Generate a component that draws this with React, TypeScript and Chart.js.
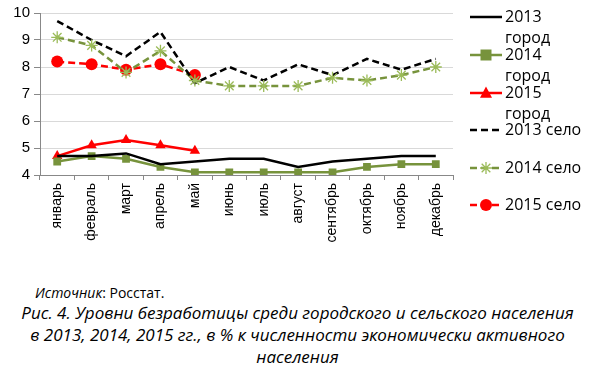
import React, { useEffect, useRef } from "react";
import { Chart, registerables } from "chart.js";

Chart.register(...registerables);

const months = ["январь", "февраль", "март", "апрель", "май", "июнь", "июль", "август", "сентябрь", "октябрь", "ноябрь", "декабрь"];
const city2013 = [4.7, 4.7, 4.8, 4.4, 4.5, 4.6, 4.6, 4.3, 4.5, 4.6, 4.7, 4.7];
const city2014 = [4.5, 4.7, 4.6, 4.3, 4.1, 4.1, 4.1, 4.1, 4.1, 4.3, 4.4, 4.4];
const city2015 = [4.7, 5.1, 5.3, 5.1, 4.9];
const village2013 = [9.7, 9.0, 8.4, 9.3, 7.4, 8.0, 7.5, 8.1, 7.7, 8.3, 7.9, 8.3];
const village2014 = [9.1, 8.8, 7.8, 8.6, 7.5, 7.3, 7.3, 7.3, 7.6, 7.5, 7.7, 8.0];
const village2015 = [8.2, 8.1, 7.9, 8.1, 7.7];
const yTicks = [4, 5, 6, 7, 8, 9, 10];
const legendLabels = [["2013", "город"], ["2014", "город"], ["2015", "город"], ["2013 село"], ["2014 село"], ["2015 село"]];

const GREEN = "#77933C";
const LGREEN = "#9BBB59";
const RED = "#FF0000";

function drawMarker(ctx: CanvasRenderingContext2D, style: string, x: number, y: number, r: number, fill: string, stroke: string) {
  ctx.save();
  ctx.fillStyle = fill;
  ctx.strokeStyle = stroke;
  ctx.lineWidth = 1;
  ctx.setLineDash([]);
  ctx.beginPath();
  if (style === "rect") {
    ctx.rect(x - r, y - r, 2 * r, 2 * r);
    ctx.fill();
  } else if (style === "triangle") {
    ctx.moveTo(x, y - r * 1.1);
    ctx.lineTo(x + r, y + r * 0.8);
    ctx.lineTo(x - r, y + r * 0.8);
    ctx.closePath();
    ctx.fill();
  } else if (style === "circle") {
    ctx.arc(x, y, r, 0, Math.PI * 2);
    ctx.fill();
  } else if (style === "star") {
    ctx.lineWidth = 1.3;
    ctx.moveTo(x - r, y); ctx.lineTo(x + r, y);
    ctx.moveTo(x, y - r); ctx.lineTo(x, y + r);
    const d = r * 0.72;
    ctx.moveTo(x - d, y - d); ctx.lineTo(x + d, y + d);
    ctx.moveTo(x - d, y + d); ctx.lineTo(x + d, y - d);
    ctx.stroke();
  }
  ctx.restore();
}

const legendPlugin = {
  id: "customLegend",
  afterDraw(chart: any) {
    const ctx: CanvasRenderingContext2D = chart.ctx;
    const ds = chart.data.datasets;
    const x0 = 470, x1 = 502, tx = 505;
    const ys = [17, 55, 93, 130, 168, 205];
    ctx.save();
    ds.forEach((d: any, i: number) => {
      const y = ys[i];
      ctx.strokeStyle = d.borderColor;
      ctx.lineWidth = 2.5;
      ctx.setLineDash(d.borderDash || []);
      ctx.beginPath();
      ctx.moveTo(x0, y);
      ctx.lineTo(x1, y);
      ctx.stroke();
      if (d.pointRadius > 0) {
        drawMarker(ctx, d.pointStyle, (x0 + x1) / 2, y, d.pointRadius, d.pointBackgroundColor, d.pointBorderColor);
      }
      if (d.customStar) drawMarker(ctx, "star", (x0 + x1) / 2, y, 6, LGREEN, LGREEN);
      ctx.fillStyle = "#000";
      ctx.font = "16px 'Open Sans'";
      ctx.textBaseline = "middle";
      ctx.textAlign = "left";
      legendLabels[i].forEach((t, k) => ctx.fillText(t, tx, y + k * 21));
    });
    ctx.restore();
  },
};

const markerPlugin = {
  id: "customMarkers",
  afterDatasetsDraw(chart: any) {
    const ctx = chart.ctx;
    chart.data.datasets.forEach((d: any, i: number) => {
      if (!d.customStar) return;
      const meta = chart.getDatasetMeta(i);
      meta.data.forEach((p: any) => drawMarker(ctx, "star", p.x, p.y, 6, LGREEN, LGREEN));
    });
  },
};

export default function App() {
  const ref = useRef<HTMLCanvasElement>(null);
  useEffect(() => {
    const chart = new Chart(ref.current!, {
      type: "line",
      data: {
        labels: months,
        datasets: [
          { label: "2013 город", data: city2013, borderColor: "#000", borderWidth: 2.5, pointRadius: 0, pointStyle: "circle", pointBackgroundColor: "#000", pointBorderColor: "#000", tension: 0 },
          { label: "2014 город", data: city2014, borderColor: GREEN, borderWidth: 2.5, pointRadius: 5.5, pointStyle: "rect", pointBackgroundColor: GREEN, pointBorderColor: GREEN, pointBorderWidth: 0, tension: 0 },
          { label: "2015 город", data: city2015, borderColor: RED, borderWidth: 2.5, pointRadius: 6, pointStyle: "triangle", pointBackgroundColor: RED, pointBorderColor: RED, pointBorderWidth: 0, tension: 0 },
          { label: "2013 село", data: village2013, borderColor: "#000", borderWidth: 2.5, borderDash: [7, 4], pointRadius: 0, pointStyle: "circle", pointBackgroundColor: "#000", pointBorderColor: "#000", tension: 0 },
          { label: "2014 село", data: village2014, borderColor: GREEN, borderWidth: 2.5, borderDash: [7, 4], pointRadius: 0, pointHoverRadius: 0, pointStyle: "star", pointBackgroundColor: "rgba(0,0,0,0)", pointBorderColor: "rgba(0,0,0,0)", customStar: true, tension: 0 } as any,
          { label: "2015 село", data: village2015, borderColor: RED, borderWidth: 2.5, borderDash: [7, 4], pointRadius: 6, pointStyle: "circle", pointBackgroundColor: RED, pointBorderColor: RED, pointBorderWidth: 0, tension: 0 },
        ],
      },
      options: {
        animation: false,
        responsive: false,
        maintainAspectRatio: false,
        layout: { padding: { top: 13, right: 142, left: 0, bottom: 0 } },
        plugins: { legend: { display: false }, tooltip: { enabled: false } },
        scales: {
          x: {
            offset: true,
            afterFit: (a: any) => { a.height = 75; },
            grid: { display: true, offset: true, drawOnChartArea: false, color: "#888", tickLength: 5 },
            border: { color: "#888" },
            ticks: { maxRotation: 90, minRotation: 90, color: "#000", font: { family: "'Liberation Sans', Arial", size: 14 }, padding: 3 },
          },
          y: {
            min: 4,
            max: 10,
            afterFit: (a: any) => { a.width = 40; },
            afterBuildTicks: (a: any) => { a.ticks = yTicks.map((v) => ({ value: v })); },
            grid: { color: "#D9D9D9", tickLength: 6, tickColor: "#888" },
            border: { color: "#888" },
            ticks: { color: "#000", font: { family: "'Liberation Sans', Arial", size: 15 }, padding: 4 },
          },
        },
      },
      plugins: [markerPlugin, legendPlugin],
    });
    return () => chart.destroy();
  }, []);

  return (
    <div style={{ position: "absolute", left: 0, top: 0, width: 595, height: 368, background: "#fff" }}>
      <canvas ref={ref} width={595} height={250} style={{ display: "block", width: 595, height: 250 }} />
      <div style={{ position: "absolute", left: 35, top: 283, fontFamily: "'Open Sans'", fontSize: 14, lineHeight: "20px", color: "#000" }}>
        <i>Источник</i>: Росстат.
      </div>
      <div style={{ position: "absolute", left: 0, top: 302, width: 595, textAlign: "center", fontFamily: "'Open Sans'", fontStyle: "italic", fontSize: 17, lineHeight: "22px", color: "#000" }}>
        Рис. 4. Уровни безработицы среди городского и сельского населения<br />
        в 2013, 2014, 2015 гг., в % к численности экономически активного<br />
        населения
      </div>
    </div>
  );
}
